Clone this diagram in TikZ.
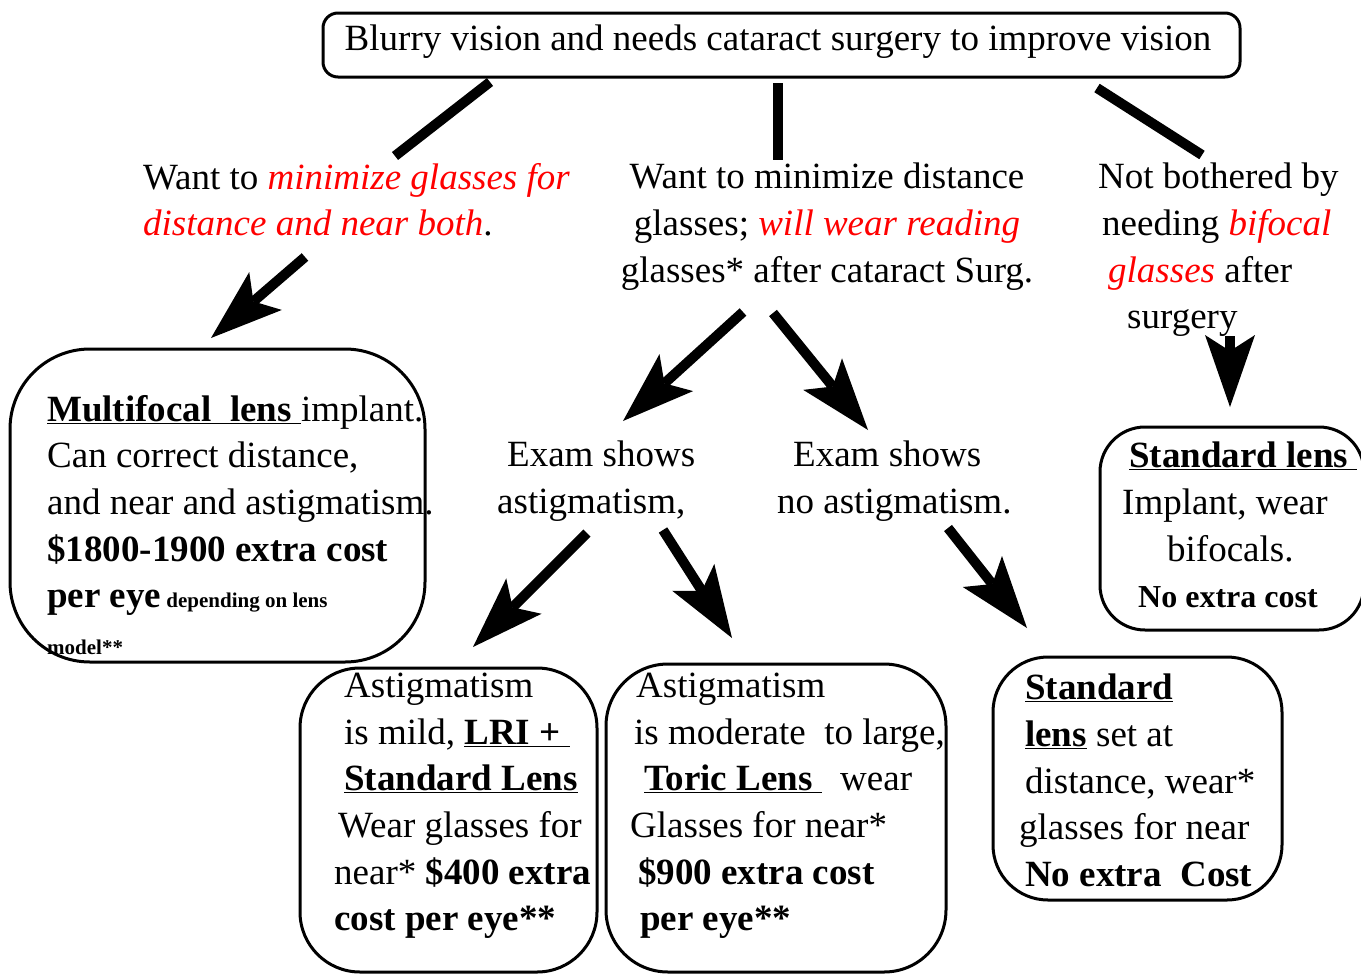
\documentclass[tikz,border=0pt]{standalone}
\usepackage{fontspec}
\setmainfont{Liberation Serif}
\usetikzlibrary{arrows.meta}
\newcommand{\redit}[1]{\textcolor{red}{\textit{#1}}}
\newcommand{\smallbf}[2]{{\fontsize{#1}{25}\selectfont\bfseries #2}}

\begin{document}
\begin{tikzpicture}[x=1pt,y=-1pt]

\tikzset{txt/.style={font=\fontsize{37}{46.6}\selectfont,inner sep=0pt,align=left,anchor=north west},
roundbox/.style={draw,line width=3pt,inner sep=0pt,shape=rectangle},
stem/.style={line width=10pt},
bigarrow/.style={line width=10pt,-{Stealth[length=72pt,width=50pt,inset=16pt,line width=0pt]}}}

\useasboundingbox (0,0) rectangle (1361,975);

% Boxes
\node[roundbox,rounded corners=15pt,minimum width=917pt,minimum height=64pt] (topBox) at (781.5,45) {};
\node[roundbox,rounded corners=80pt,minimum width=415pt,minimum height=313pt] (multiBox) at (217.5,505.5) {};
\node[roundbox,rounded corners=45pt,minimum width=264pt,minimum height=203pt] (stdBox) at (1232,528.5) {};
\node[roundbox,rounded corners=60pt,minimum width=297pt,minimum height=304pt] (lriBox) at (448.5,820) {};
\node[roundbox,rounded corners=62pt,minimum width=340pt,minimum height=308pt] (toricBox) at (776,818) {};
\node[roundbox,rounded corners=55pt,minimum width=289pt,minimum height=243pt] (stdNearBox) at (1137.5,778.5) {};

% Texts
\node[txt,anchor=base] (blurry) at (778,50) {Blurry vision and needs cataract surgery to improve vision};
\node[txt] (wantBoth) at (143,163) {Want to \redit{minimize glasses for}\\\redit{distance and near both}.};
\node[txt,align=center,anchor=north] (wantDist) at (827,163) {Want to minimize distance\\glasses; \redit{will wear reading}\\glasses* after cataract Surg.};
\node[txt] (notBothered) at (1098,163) {Not bothered by\\\hspace*{4pt}needing \redit{bifocal}\\\hspace*{10pt}\redit{glasses} after\\\hspace*{29pt}surgery};
\node[txt] (multiTxt) at (47,395) {\underline{\textbf{Multifocal\ \ lens\ }}implant.\\Can correct distance,\\and near and astigmatism.\\\textbf{\$1800-1900 extra cost}\\\textbf{per eye}\smallbf{21}{\ depending on lens}\\\smallbf{21}{model**}};
\node[txt] (examAstig) at (497,441) {\hspace*{10pt}Exam shows\\astigmatism,};
\node[txt] (examNoAstig) at (777,441) {\hspace*{16pt}Exam shows\\no astigmatism.};
\node[txt] (stdTxt) at (1122,442) {\hspace*{7pt}\underline{\textbf{Standard lens\ }}\\Implant, wear\\\hspace*{45pt}bifocals.\\\hspace*{16pt}\smallbf{32}{No extra cost}};
\node[txt] (lriTxt) at (334,673) {\hspace*{10pt}Astigmatism\\\hspace*{10pt}is mild, \underline{\textbf{LRI +\ }}\\\hspace*{10pt}\underline{\textbf{Standard Lens}}\\\hspace*{4pt}Wear glasses for\\near* \textbf{\$400 extra}\\\textbf{cost per eye**}};
\node[txt] (toricTxt) at (630,673) {\hspace*{6pt}Astigmatism\\\hspace*{4pt}is moderate\ \ to large,\\\hspace*{14pt}\underline{\textbf{Toric Lens\ }}\ \ wear\\Glasses for near*\\\hspace*{8pt}\textbf{\$900 extra cost}\\\hspace*{10pt}\textbf{per eye**}};
\node[txt] (stdNearTxt) at (1019,674) {\hspace*{6pt}\underline{\textbf{Standard}}\\\hspace*{6pt}\underline{\textbf{lens}} set at\\\hspace*{6pt}distance, wear*\\glasses for near\\\hspace*{6pt}\textbf{No extra\ \ Cost}};

% Connector ends
\coordinate (l1a) at (490,82);   \coordinate (l1b) at (395,156);
\coordinate (l2a) at (778,83);   \coordinate (l2b) at (778,160);
\coordinate (l3a) at (1097,88);  \coordinate (l3b) at (1202,155);
\coordinate (a1a) at (305,257);  \coordinate (a1b) at (211,338);
\coordinate (a2a) at (743,312);  \coordinate (a2b) at (623,421);
\coordinate (a3a) at (773,313);  \coordinate (a3b) at (868,430);
\coordinate (a4a) at (1230,336); \coordinate (a4b) at (1230,407);
\coordinate (a5a) at (587,533);  \coordinate (a5b) at (473,647);
\coordinate (a6a) at (663,530);  \coordinate (a6b) at (732,638);
\coordinate (a7a) at (948,528);  \coordinate (a7b) at (1027,628);

% Stems from top box
\foreach \x in {1,2,3} \draw[stem] (l\x a) -- (l\x b);

% Arrows
\foreach \x in {1,...,7} \draw[bigarrow] (a\x a) -- (a\x b);

\end{tikzpicture}
\end{document}
